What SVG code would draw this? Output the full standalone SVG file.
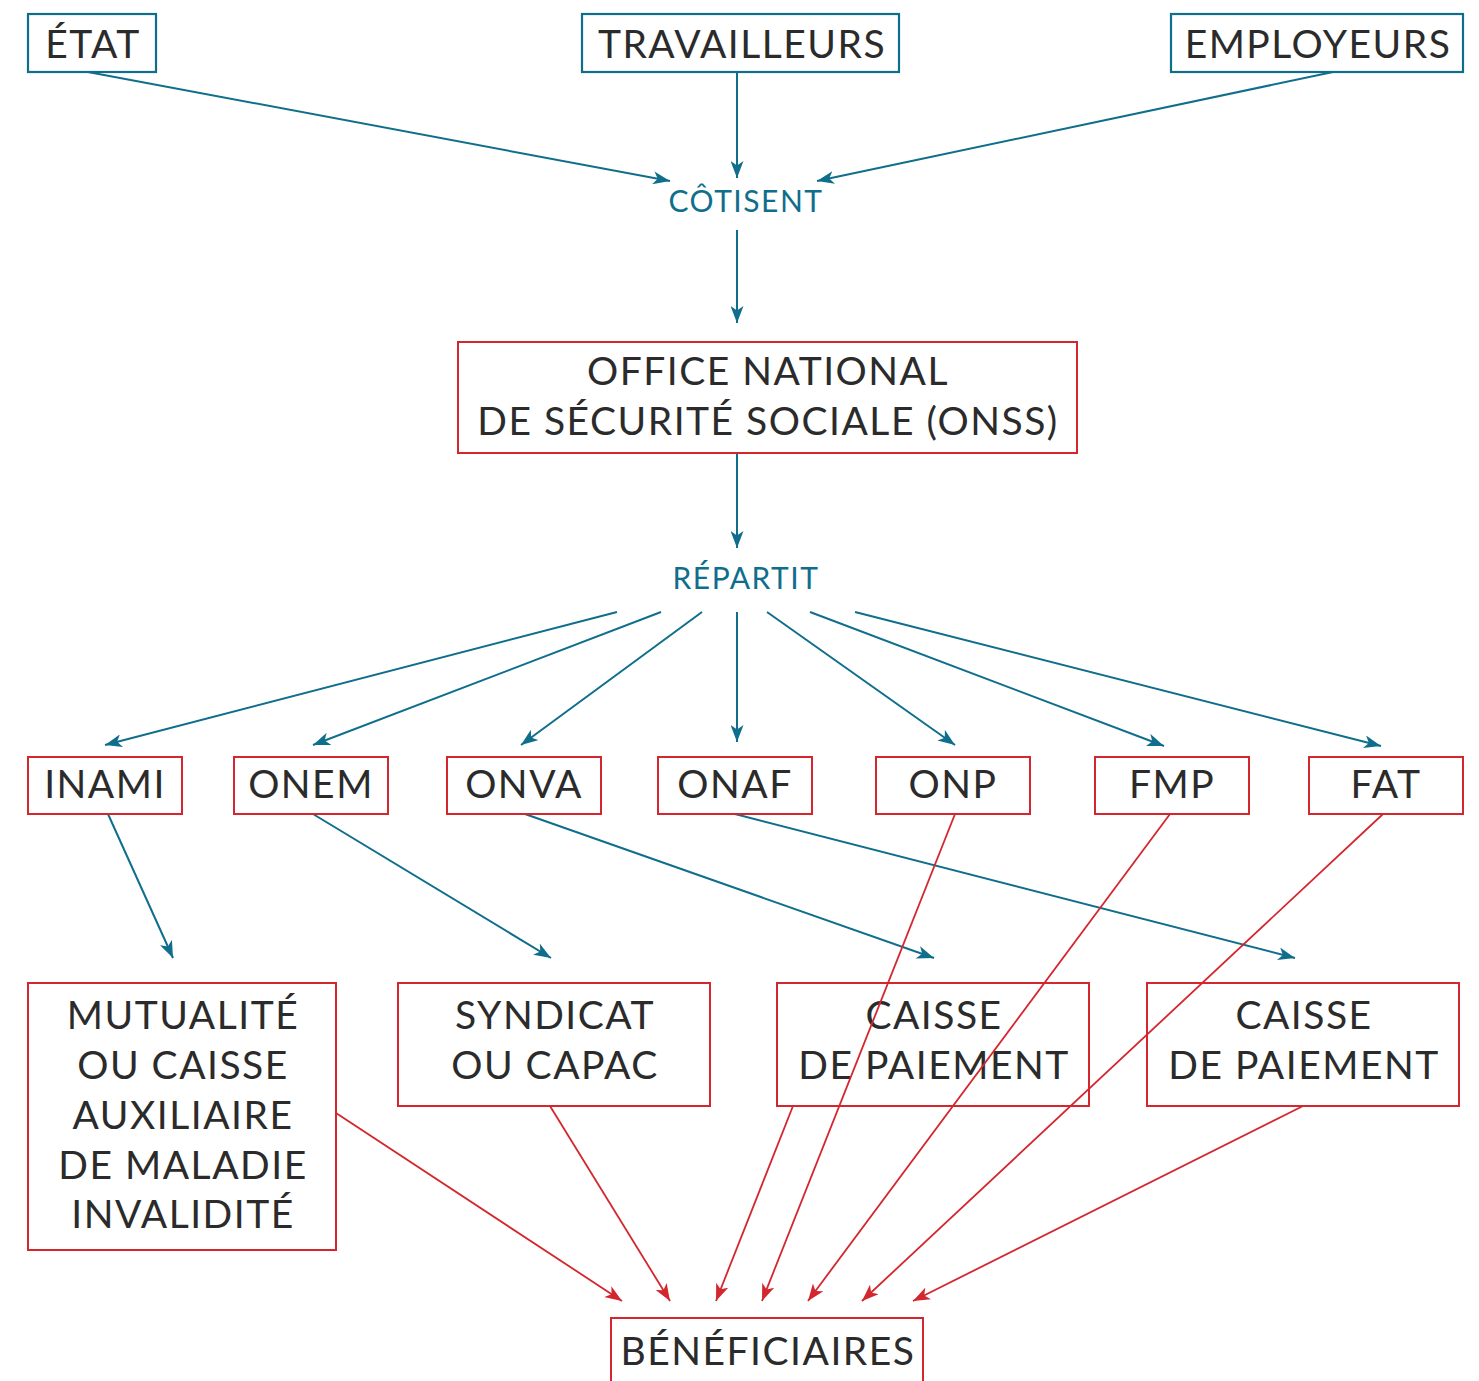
<svg xmlns="http://www.w3.org/2000/svg" width="1479" height="1381" viewBox="0 0 1479 1381">
<style>
  .bt{fill:#fff;stroke:#0f6e8c;stroke-width:2.2}
  .br{fill:#fff;stroke:#d3262e;stroke-width:2}
  .t{font-family:Lato,"Open Sans",sans-serif;font-size:39px;letter-spacing:1.5px;fill:#2b2b2b;text-anchor:middle}
  .v{font-family:Lato,"Open Sans",sans-serif;font-size:30px;letter-spacing:1.5px;fill:#0f6e8c;text-anchor:middle}
  .cb{stroke:#0f6e8c;stroke-width:2;fill:none;marker-end:url(#ab)}
  .cr{stroke:#d3262e;stroke-width:1.8;fill:none;marker-end:url(#ar)}
</style>
<defs>
  <marker id="ab" viewBox="0 0 17 13" refX="17" refY="6.5" markerWidth="17" markerHeight="13" markerUnits="userSpaceOnUse" orient="auto">
    <path d="M0,0 L17,6.5 L0,13 L4.5,6.5 z" fill="#0f6e8c"/>
  </marker>
  <marker id="ar" viewBox="0 0 17 13" refX="17" refY="6.5" markerWidth="17" markerHeight="13" markerUnits="userSpaceOnUse" orient="auto">
    <path d="M0,0 L17,6.5 L0,13 L4.5,6.5 z" fill="#d3262e"/>
  </marker>
</defs>
<rect width="1479" height="1381" fill="#fff"/>
<g id="connectors">
  <line class="cb" x1="88" y1="72" x2="670" y2="181"/>
  <line class="cb" x1="737" y1="72" x2="737" y2="178"/>
  <line class="cb" x1="1333" y1="72" x2="817" y2="181"/>
  <line class="cb" x1="737" y1="230" x2="737" y2="323"/>
  <line class="cb" x1="737" y1="453" x2="737" y2="548"/>
  <line class="cb" x1="617" y1="612" x2="105" y2="745"/>
  <line class="cb" x1="661" y1="612" x2="313" y2="745"/>
  <line class="cb" x1="702" y1="612" x2="521" y2="745"/>
  <line class="cb" x1="737" y1="612" x2="737" y2="742"/>
  <line class="cb" x1="767" y1="612" x2="955" y2="745"/>
  <line class="cb" x1="810" y1="612" x2="1164" y2="746"/>
  <line class="cb" x1="855" y1="612" x2="1381" y2="746"/>
  <line class="cb" x1="108" y1="814" x2="173" y2="958"/>
  <line class="cb" x1="313" y1="814" x2="551" y2="958"/>
  <line class="cb" x1="525" y1="814" x2="934" y2="958"/>
  <line class="cb" x1="735" y1="814" x2="1295" y2="958"/>
</g>
<g id="n-etat"><rect class="bt" x="28" y="14" width="128" height="58"/><text class="t" x="93" y="58">ÉTAT</text></g>
<g id="n-travailleurs"><rect class="bt" x="582" y="14" width="317" height="58"/><text class="t" x="742" y="58">TRAVAILLEURS</text></g>
<g id="n-employeurs"><rect class="bt" x="1171" y="14" width="292" height="58"/><text class="t" x="1318" y="58">EMPLOYEURS</text></g>
<g id="n-cotisent"><text class="v" x="746" y="212">CÔTISENT</text></g>
<g id="n-onss"><rect class="br" x="458" y="342" width="619" height="111"/><text class="t" x="768" y="385">OFFICE NATIONAL</text><text class="t" x="768" y="435">DE SÉCURITÉ SOCIALE (ONSS)</text></g>
<g id="n-repartit"><text class="v" x="746" y="589">RÉPARTIT</text></g>
<g id="n-inami"><rect class="br" x="28" y="757" width="154" height="57"/><text class="t" x="105" y="798">INAMI</text></g>
<g id="n-onem"><rect class="br" x="234" y="757" width="154" height="57"/><text class="t" x="311" y="798">ONEM</text></g>
<g id="n-onva"><rect class="br" x="447" y="757" width="154" height="57"/><text class="t" x="524" y="798">ONVA</text></g>
<g id="n-onaf"><rect class="br" x="658" y="757" width="154" height="57"/><text class="t" x="735" y="798">ONAF</text></g>
<g id="n-onp"><rect class="br" x="876" y="757" width="154" height="57"/><text class="t" x="953" y="798">ONP</text></g>
<g id="n-fmp"><rect class="br" x="1095" y="757" width="154" height="57"/><text class="t" x="1172" y="798">FMP</text></g>
<g id="n-fat"><rect class="br" x="1309" y="757" width="154" height="57"/><text class="t" x="1386" y="798">FAT</text></g>
<g id="n-mutualite"><rect class="br" x="28" y="983" width="308" height="267"/>
  <text class="t" x="183" y="1029">MUTUALITÉ</text><text class="t" x="183" y="1079">OU CAISSE</text><text class="t" x="183" y="1129">AUXILIAIRE</text><text class="t" x="183" y="1179">DE MALADIE</text><text class="t" x="183" y="1228">INVALIDITÉ</text></g>
<g id="n-syndicat"><rect class="br" x="398" y="983" width="312" height="123"/><text class="t" x="555" y="1029">SYNDICAT</text><text class="t" x="555" y="1079">OU CAPAC</text></g>
<g id="n-caisse1"><rect class="br" x="777" y="983" width="312" height="123"/><text class="t" x="934" y="1029">CAISSE</text><text class="t" x="934" y="1079">DE PAIEMENT</text></g>
<g id="n-caisse2"><rect class="br" x="1147" y="983" width="312" height="123"/><text class="t" x="1304" y="1029">CAISSE</text><text class="t" x="1304" y="1079">DE PAIEMENT</text></g>
<g id="n-beneficiaires"><rect class="br" x="611" y="1318" width="312" height="80"/><text class="t" x="768" y="1365">BÉNÉFICIAIRES</text></g>
<g id="connectors-red">
  <line class="cr" x1="955" y1="814" x2="762" y2="1301"/>
  <line class="cr" x1="1170" y1="814" x2="808" y2="1301"/>
  <line class="cr" x1="1383" y1="814" x2="862" y2="1301"/>
  <line class="cr" x1="336" y1="1113" x2="622" y2="1301"/>
  <line class="cr" x1="550" y1="1106" x2="670" y2="1301"/>
  <line class="cr" x1="793" y1="1106" x2="716" y2="1301"/>
  <line class="cr" x1="1303" y1="1106" x2="913" y2="1301"/>
</g>
</svg>
